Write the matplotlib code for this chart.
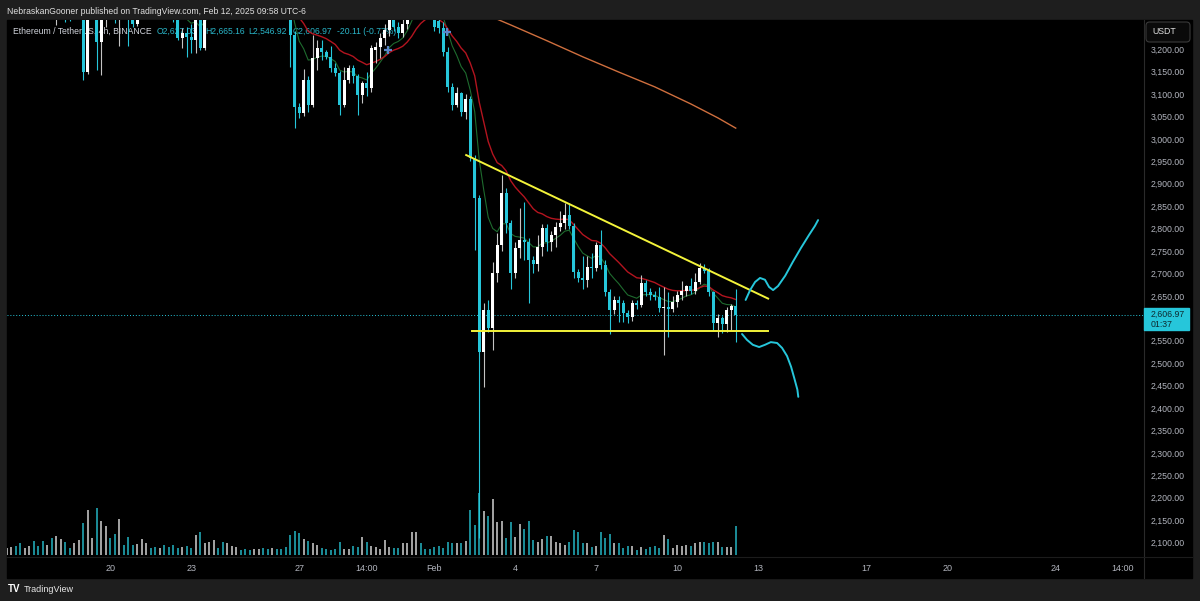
import numpy as np
import pandas as pd
import matplotlib
matplotlib.use('Agg')
import matplotlib.pyplot as plt
import matplotlib.dates as mdates
from matplotlib.patches import Rectangle, FancyBboxPatch

plt.rcParams['font.family'] = ['Liberation Sans', 'DejaVu Sans']

# ETH/USDT 4h candles (Binance), chart time zone UTC-6
first_bar = '2025-01-16 06:00'

opens = [
    3320, 3330, 3350, 3340, 3325, 3345, 3380, 3360, 3335, 3310,
    3320, 3300, 3310, 3320, 3290, 3285, 3320, 3330, 3149, 3290,
    3380, 3216, 3320, 3400, 3380, 3290, 3310, 3300, 3265, 3256,
    3290, 3320, 3340, 3330, 3315, 3330, 3300, 3295, 3275, 3225,
    3236, 3228, 3220, 3275, 3203, 3305, 3330, 3350, 3335, 3310,
    3330, 3370, 3395, 3380, 3360, 3345, 3355, 3375, 3350, 3320,
    3335, 3310, 3300, 3295, 3232, 3071, 3058, 3132, 3076, 3181,
    3203, 3194, 3183, 3158, 3147, 3076, 3132, 3158, 3140, 3098,
    3125, 3114, 3198, 3205, 3225, 3243, 3275, 3250, 3235, 3255,
    3305, 3350, 3400, 3375, 3345, 3310, 3262, 3248, 3194, 3116,
    3076, 3102, 3060, 3090, 2957, 2868, 2525, 2619, 2579, 2701,
    2764, 2880, 2813, 2701, 2757, 2775, 2770, 2730, 2720, 2759,
    2802, 2770, 2786, 2804, 2812, 2831, 2806, 2703, 2690, 2686,
    2715, 2712, 2764, 2719, 2659, 2619, 2641, 2634, 2612, 2603,
    2634, 2630, 2679, 2659, 2652, 2648, 2623, 2625, 2620, 2637,
    2652, 2662, 2671, 2662, 2680, 2712, 2706, 2659, 2590, 2601,
    2588, 2619, 2627.03,
]
highs = [
    3345, 3360, 3380, 3365, 3350, 3390, 3400, 3375, 3350, 3330,
    3340, 3320, 3335, 3330, 3300, 3330, 3345, 3345, 3300, 3400,
    3440, 3340, 3420, 3450, 3410, 3330, 3340, 3315, 3285, 3300,
    3330, 3350, 3365, 3345, 3340, 3345, 3320, 3305, 3285, 3248,
    3250, 3255, 3285, 3290, 3320, 3340, 3360, 3370, 3350, 3340,
    3380, 3410, 3420, 3400, 3375, 3370, 3390, 3395, 3365, 3345,
    3350, 3330, 3320, 3310, 3240, 3080, 3155, 3140, 3232, 3220,
    3220, 3198, 3208, 3170, 3152, 3160, 3165, 3165, 3145, 3130,
    3150, 3210, 3215, 3235, 3255, 3290, 3310, 3260, 3270, 3320,
    3360, 3420, 3430, 3400, 3360, 3320, 3290, 3260, 3205, 3125,
    3116, 3105, 3100, 3095, 2965, 2875, 2635, 2640, 2726, 2790,
    2920, 2890, 2820, 2770, 2845, 2860, 2780, 2740, 2785, 2810,
    2810, 2795, 2815, 2840, 2858, 2856, 2812, 2710, 2740, 2740,
    2745, 2770, 2797, 2730, 2665, 2650, 2650, 2640, 2618, 2640,
    2640, 2697, 2685, 2668, 2662, 2670, 2670, 2659, 2650, 2660,
    2684, 2675, 2690, 2700, 2724, 2722, 2712, 2662, 2610, 2605,
    2625, 2632, 2665.16,
]
lows = [
    3300, 3315, 3335, 3310, 3300, 3335, 3350, 3320, 3295, 3285,
    3290, 3254, 3290, 3260, 3262, 3280, 3300, 3132, 3145, 3280,
    3154, 3143, 3250, 3360, 3259, 3206, 3285, 3206, 3250, 3252,
    3280, 3305, 3320, 3300, 3295, 3290, 3280, 3260, 3220, 3203,
    3183, 3192, 3192, 3198, 3198, 3295, 3315, 3325, 3300, 3295,
    3320, 3355, 3370, 3350, 3330, 3320, 3340, 3345, 3310, 3295,
    3300, 3285, 3280, 3160, 3024, 3047, 3050, 3060, 3070, 3154,
    3176, 3178, 3150, 3140, 3053, 3070, 3125, 3125, 3053, 3080,
    3095, 3105, 3170, 3180, 3210, 3230, 3240, 3225, 3228, 3245,
    3290, 3335, 3360, 3330, 3300, 3240, 3235, 3185, 3105, 3065,
    3070, 3050, 3045, 2950, 2753, 2110, 2447, 2570, 2530, 2680,
    2750, 2790, 2665, 2690, 2735, 2730, 2635, 2700, 2705, 2740,
    2750, 2750, 2760, 2795, 2800, 2800, 2690, 2680, 2665, 2670,
    2690, 2705, 2710, 2650, 2565, 2610, 2592, 2592, 2590, 2595,
    2620, 2625, 2650, 2640, 2640, 2615, 2519, 2559, 2615, 2625,
    2640, 2650, 2655, 2655, 2676, 2700, 2650, 2575, 2559, 2568,
    2570, 2575, 2546.92,
]
closes = [
    3330, 3350, 3340, 3325, 3345, 3380, 3360, 3335, 3310, 3320,
    3300, 3310, 3320, 3290, 3285, 3320, 3330, 3149, 3290, 3380,
    3216, 3320, 3400, 3380, 3300, 3310, 3300, 3265, 3256, 3290,
    3320, 3340, 3330, 3315, 3330, 3300, 3295, 3275, 3225, 3236,
    3228, 3220, 3275, 3203, 3305, 3330, 3350, 3335, 3310, 3330,
    3370, 3395, 3380, 3360, 3345, 3355, 3375, 3350, 3320, 3335,
    3310, 3300, 3295, 3232, 3071, 3058, 3132, 3076, 3181, 3203,
    3194, 3183, 3158, 3147, 3076, 3132, 3158, 3140, 3098, 3125,
    3114, 3203, 3205, 3225, 3243, 3275, 3250, 3235, 3255, 3305,
    3350, 3400, 3375, 3345, 3310, 3250, 3248, 3194, 3116, 3076,
    3102, 3060, 3090, 2957, 2868, 2525, 2619, 2579, 2701, 2764,
    2880, 2813, 2701, 2757, 2775, 2770, 2730, 2720, 2759, 2802,
    2770, 2786, 2804, 2812, 2831, 2806, 2703, 2690, 2686, 2715,
    2712, 2764, 2719, 2659, 2619, 2641, 2634, 2612, 2603, 2634,
    2630, 2679, 2659, 2652, 2648, 2623, 2625, 2620, 2637, 2652,
    2662, 2671, 2662, 2680, 2712, 2706, 2659, 2590, 2601, 2588,
    2619, 2627.08, 2606.97,
]
# volume in units of 10k ETH
volume = [
    7, 8, 9, 12, 7, 9, 14, 9, 14, 10, 17, 19, 16, 13, 7, 12, 15,
    32, 45, 17, 47, 34, 29, 17, 21, 36, 10,
    18, 10, 11, 16, 12, 7, 8, 7, 10, 8,
    10, 7, 8, 9, 7, 20, 23, 12, 13, 15,
    7, 13, 12, 9, 8, 5, 6, 5, 6, 6,
    7, 6, 7, 6, 6, 8, 20, 24, 22, 16,
    14, 12, 10, 7, 6, 5, 6, 13, 6, 6,
    9, 8, 18, 13, 9, 8, 6, 15, 8, 7,
    7, 12, 12, 23, 23, 12, 6, 6, 8, 9,
    7, 13, 12, 12, 12, 14, 45, 30, 62, 44,
    39, 56, 33, 34, 17, 33, 18, 31, 26, 34,
    15, 13, 16, 19, 19, 13, 12, 10, 13, 25,
    23, 12, 12, 8, 9, 23, 17, 21, 12, 12,
    7, 9, 9, 5, 8, 6, 8, 9, 7, 20,
    16, 7, 10, 9, 10, 9, 12, 13, 13, 12,
    13, 13, 8, 8, 8, 29,
]

# slow moving average (orange), by bar number
slow_ma_bar = [104, 108, 112, 120, 128, 136, 144, 152, 158, 162]
slow_ma_val = [3300, 3271, 3254, 3219, 3183, 3149, 3116, 3078, 3047, 3024]

# drawings: triangle lines and the two hand-drawn paths (bar number, price)
resist_bar = [102.1, 169.2]
resist_val = [2964, 2644]
support_bar = [103.5, 169.2]
support_val = [2572, 2572]
path_up_bar = [164.2, 165.2, 166.3, 167.4, 168.5, 169.4, 170.3, 171.4, 173.0, 174.7, 176.5, 178.3, 179.6, 180.3]
path_up_val = [2641, 2663, 2681, 2690, 2686, 2670, 2663, 2672, 2695, 2726, 2757, 2786, 2806, 2819]
path_dn_bar = [163.4, 164.5, 165.8, 167.2, 168.5, 169.8, 171.2, 172.3, 173.4, 174.3, 175.0, 175.7, 175.9]
path_dn_val = [2565, 2552, 2541, 2536, 2541, 2547, 2545, 2534, 2516, 2492, 2467, 2441, 2425]
event_bar = [84.7, 97.8]
event_val = [3198, 3238]

tick_times = ['2025-01-20 02:00', '2025-01-23 02:00', '2025-01-27 02:00', '2025-01-29 14:00',
              '2025-02-01 02:00', '2025-02-04 02:00', '2025-02-07 02:00', '2025-02-10 02:00',
              '2025-02-13 02:00', '2025-02-17 02:00', '2025-02-20 02:00', '2025-02-24 02:00',
              '2025-02-26 14:00']
tick_labels = ['20', '23', '27', '14:00', 'Feb', '4', '7', '10', '13', '17', '20', '24', '14:00']
price_ticks = [p for p in range(2100, 3201, 50) if p != 2600]
countdown = '01:37'

CYAN = '#26c6da'
FRAME = '#1e1e1e'
TXT = '#b2b5be'
W, H = 1200, 601

def fx(px):
    return px / W

def fy(py):
    return 1 - py / H

o, h, l, c = (np.array(a, dtype=float) for a in (opens, highs, lows, closes))
vol = np.array(volume, dtype=float)
t = pd.date_range(first_bar, periods=len(c), freq='4h')
x = mdates.date2num(t)
bar_days = 4 / 24

def bar_x(b):
    return x[0] + np.asarray(b, dtype=float) * bar_days

fig = plt.figure(figsize=(12, 6.01), dpi=100, facecolor=FRAME)
fig.add_artist(Rectangle((fx(7), fy(578)), fx(1192 - 7), (578 - 20) / H,
                         transform=fig.transFigure, color='black', zorder=-5))

vax = fig.add_axes([fx(7), fy(555), fx(1143 - 7), 120 / H], zorder=0.5)
ax = fig.add_axes([fx(7), fy(557), fx(1143 - 7), (557 - 20) / H], zorder=1)
ax.set_facecolor('none')
vax.set_facecolor('none')

xlim = (bar_x(0.07), bar_x(252.5))
ax.set_xlim(*xlim)
ax.set_ylim(2068, 3265)
vax.set_xlim(*xlim)
vax.set_ylim(0, 120)
vax.axis('off')

up = c >= o

# volume
vax.bar(x[up], vol[up], bar_days * 0.4, color='#bdbdbd', lw=0, alpha=0.85)
vax.bar(x[~up], vol[~up], bar_days * 0.4, color='#1f9aa6', lw=0, alpha=0.9)

# moving averages
close_s = pd.Series(c)
ax.plot(x, close_s.ewm(span=9, adjust=False).mean(), color='#1e6b2e', lw=0.8, zorder=2)
ax.plot(x, close_s.ewm(span=20, adjust=False).mean(), color='#b3141f', lw=1.0, zorder=2)
ax.plot(bar_x(slow_ma_bar), slow_ma_val, color='#cf6f3e', lw=1.0, zorder=2)

# candles
ax.vlines(x[up], l[up], h[up], color='#c4c4c4', lw=0.8, zorder=3)
ax.vlines(x[~up], l[~up], h[~up], color=CYAN, lw=0.8, zorder=3)
body_lo = np.minimum(o, c)
body_h = np.maximum(np.abs(c - o), 1.8)
ax.bar(x[up], body_h[up], bar_days * 0.7, body_lo[up], color='white', lw=0, zorder=4)
ax.bar(x[~up], body_h[~up], bar_days * 0.7, body_lo[~up], color=CYAN, lw=0, zorder=4)

ax.plot(bar_x(event_bar), event_val, ls='none', marker='+', ms=6, mew=1.6,
        color='#5a86c8', zorder=5)

# drawings
ax.plot(bar_x(resist_bar), resist_val, color='#f3f33a', lw=1.4, zorder=6)
ax.plot(bar_x(support_bar), support_val, color='#f3f33a', lw=1.4, zorder=6)
ax.plot(bar_x(path_up_bar), path_up_val, color=CYAN, lw=1.4, zorder=6,
        solid_capstyle='round')
ax.plot(bar_x(path_dn_bar), path_dn_val, color=CYAN, lw=1.4, zorder=6,
        solid_capstyle='round')

# last price line
ax.axhline(c[-1], color=CYAN, lw=0.7, ls=(0, (1, 2)), zorder=1)

for s in ax.spines.values():
    s.set_visible(False)
ax.set_xticks(mdates.date2num(pd.to_datetime(tick_times)))
ax.set_xticklabels(tick_labels)
ax.yaxis.tick_right()
ax.set_yticks(price_ticks)
ax.set_yticklabels([f'{p:,.2f}' for p in price_ticks])
ax.tick_params(axis='x', length=0, colors=TXT, labelsize=6.5, pad=5)
ax.tick_params(axis='y', length=0, colors=TXT, labelsize=6.3, pad=5.8)

# separators
fig.add_artist(plt.Line2D([fx(1144), fx(1144)], [fy(20), fy(578)], color='#2a2a2a',
                          lw=0.8, transform=fig.transFigure))
fig.add_artist(plt.Line2D([fx(7), fx(1192)], [fy(557), fy(557)], color='#1c1c1c',
                          lw=0.8, transform=fig.transFigure))

# legend line (behind the candles)
chg = c[-1] - c[-2]
ax.text(fx(13 - 7) * W / (1143 - 7), 1 - (31 - 20) / (557 - 20),
        'Ethereum / TetherUS, 4h, BINANCE', transform=ax.transAxes,
        color='#d1d4dc', fontsize=6.2, va='center', zorder=0.5)
fields = [f'O{o[-1]:,.2f}', f'H{h[-1]:,.2f}', f'L{l[-1]:,.2f}', f'C{c[-1]:,.2f}',
          f'{chg:+.2f} ({chg / c[-2] * 100:+.2f}%)']
for px, s in zip([157, 205, 248, 293, 337], fields):
    ax.text((px - 7) / (1143 - 7), 1 - (31 - 20) / (557 - 20), s,
            transform=ax.transAxes, color='#29b6c9', fontsize=6.2,
            va='center', zorder=0.5)

# header / footer
fig.text(fx(7), fy(11), 'NebraskanGooner published on TradingView.com, Feb 12, 2025 09:58 UTC-6',
         color='#e0e0e0', fontsize=6.2, va='center')
fig.text(fx(8), fy(589), 'TV', color='white', fontsize=7, fontweight='bold', va='center')
fig.text(fx(24), fy(589), 'TradingView', color='#e8e8e8', fontsize=6.5, va='center')

# currency box
fig.add_artist(FancyBboxPatch((fx(1146), fy(42)), fx(44), 20 / H,
                              boxstyle='round,pad=0,rounding_size=0.003',
                              mutation_aspect=2.0, transform=fig.transFigure,
                              fc='#0a0a0a', ec='#3a3a3a', lw=0.8))
fig.text(fx(1164), fy(32), 'USDT', color='#e0e0e0', fontsize=6.3, va='center', ha='center')

# last price label
y_last = ax.transData.transform((x[-1], c[-1]))[1] / fig.bbox.height
fig.add_artist(Rectangle((fx(1144), y_last - 15 / H), fx(45), 22 / H,
                         transform=fig.transFigure, color=CYAN, zorder=5))
fig.text(fx(1151), y_last + 1 / H, f'{c[-1]:,.2f}', color='#0d2a30', fontsize=6.3,
         va='center', zorder=6)
fig.text(fx(1151), y_last - 9 / H, countdown, color='#0d2a30', fontsize=6.3,
         va='center', zorder=6)

fig.savefig('out.png', dpi=100, facecolor=FRAME)
